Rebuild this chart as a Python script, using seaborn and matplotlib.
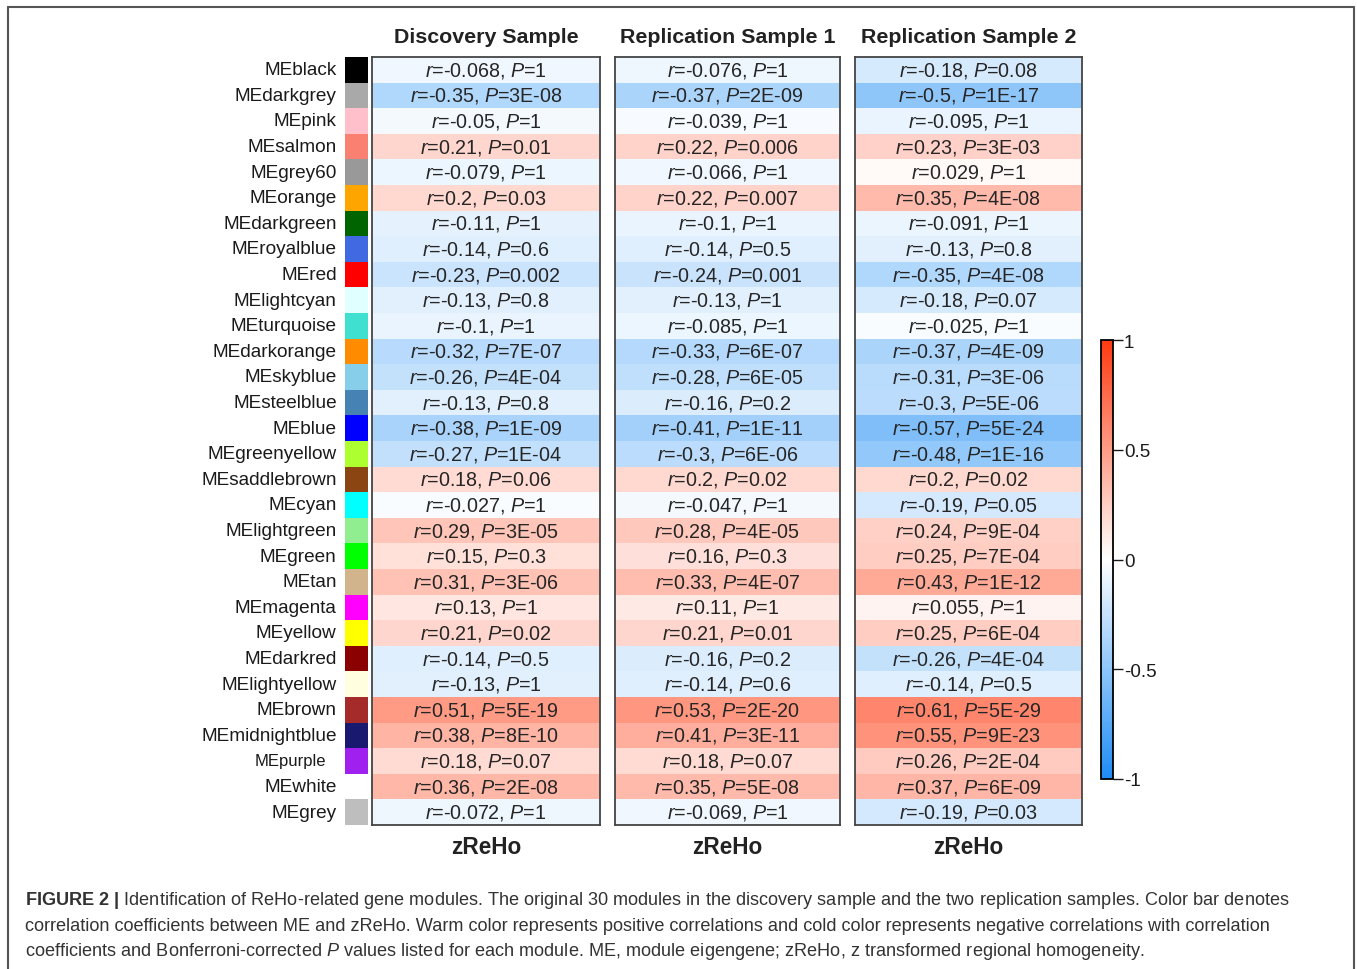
import numpy as np
import pandas as pd
import matplotlib
matplotlib.use("Agg")
import matplotlib.pyplot as plt
import matplotlib.transforms as mtransforms
from matplotlib.colors import LinearSegmentedColormap, ListedColormap
from matplotlib.lines import Line2D
import seaborn as sns

# ---------------- data ----------------
modules = ['MEblack', 'MEdarkgrey', 'MEpink', 'MEsalmon', 'MEgrey60', 'MEorange',
           'MEdarkgreen', 'MEroyalblue', 'MEred', 'MElightcyan', 'MEturquoise',
           'MEdarkorange', 'MEskyblue', 'MEsteelblue', 'MEblue', 'MEgreenyellow',
           'MEsaddlebrown', 'MEcyan', 'MElightgreen', 'MEgreen', 'MEtan', 'MEmagenta',
           'MEyellow', 'MEdarkred', 'MElightyellow', 'MEbrown', 'MEmidnightblue',
           'MEpurple', 'MEwhite', 'MEgrey']
swatch_colors = ['#000000', '#A9A9A9', '#FFC0CB', '#FA8072', '#999999', '#FFA500',
                 '#006400', '#4169E1', '#FF0000', '#E0FFFF', '#40E0D0', '#FF8C00',
                 '#87CEEB', '#4682B4', '#0000FF', '#ADFF2F', '#8B4513', '#00FFFF',
                 '#90EE90', '#00FF00', '#D2B48C', '#FF00FF', '#FFFF00', '#8B0000',
                 '#FFFFE0', '#A52A2A', '#191970', '#A020F0', '#FFFFFF', '#BEBEBE']

panel_titles = ['Discovery Sample', 'Replication Sample 1', 'Replication Sample 2']
trait = 'zReHo'

r_discovery = [-0.068, -0.35, -0.05, 0.21, -0.079, 0.2, -0.11, -0.14, -0.23, -0.13,
               -0.1, -0.32, -0.26, -0.13, -0.38, -0.27, 0.18, -0.027, 0.29, 0.15,
               0.31, 0.13, 0.21, -0.14, -0.13, 0.51, 0.38, 0.18, 0.36, -0.072]
p_discovery = ['1', '3E-08', '1', '0.01', '1', '0.03', '1', '0.6', '0.002', '0.8',
               '1', '7E-07', '4E-04', '0.8', '1E-09', '1E-04', '0.06', '1', '3E-05', '0.3',
               '3E-06', '1', '0.02', '0.5', '1', '5E-19', '8E-10', '0.07', '2E-08', '1']

r_rep1 = [-0.076, -0.37, -0.039, 0.22, -0.066, 0.22, -0.1, -0.14, -0.24, -0.13,
          -0.085, -0.33, -0.28, -0.16, -0.41, -0.3, 0.2, -0.047, 0.28, 0.16,
          0.33, 0.11, 0.21, -0.16, -0.14, 0.53, 0.41, 0.18, 0.35, -0.069]
p_rep1 = ['1', '2E-09', '1', '0.006', '1', '0.007', '1', '0.5', '0.001', '1',
          '1', '6E-07', '6E-05', '0.2', '1E-11', '6E-06', '0.02', '1', '4E-05', '0.3',
          '4E-07', '1', '0.01', '0.2', '0.6', '2E-20', '3E-11', '0.07', '5E-08', '1']

r_rep2 = [-0.18, -0.5, -0.095, 0.23, 0.029, 0.35, -0.091, -0.13, -0.35, -0.18,
          -0.025, -0.37, -0.31, -0.3, -0.57, -0.48, 0.2, -0.19, 0.24, 0.25,
          0.43, 0.055, 0.25, -0.26, -0.14, 0.61, 0.55, 0.26, 0.37, -0.19]
p_rep2 = ['0.08', '1E-17', '1', '3E-03', '1', '4E-08', '1', '0.8', '4E-08', '0.07',
          '1', '4E-09', '3E-06', '5E-06', '5E-24', '1E-16', '0.02', '0.05', '9E-04', '7E-04',
          '1E-12', '1', '6E-04', '4E-04', '0.5', '5E-29', '9E-23', '2E-04', '6E-09', '0.03']

cbar_ticks = [-1, -0.5, 0, 0.5, 1]
cbar_ticklabels = ['-1', '-0.5', '0', '0.5', '1']

caption_lines = [
    r'$\mathbf{FIGURE\ 2\ |}$ Identification of ReHo-related gene modules. The original 30 modules in the discovery sample and the two replication samples. Color bar denotes',
    r'correlation coefficients between ME and zReHo. Warm color represents positive correlations and cold color represents negative correlations with correlation',
    r'coefficients and Bonferroni-corrected $\mathit{P}$ values listed for each module. ME, module eigengene; zReHo, z transformed regional homogeneity.',
]

# ---------------- style ----------------
sns.set_style('white')
plt.rcParams['font.family'] = ['Liberation Sans', 'DejaVu Sans']
plt.rcParams['mathtext.fontset'] = 'custom'
plt.rcParams['mathtext.rm'] = 'Liberation Sans'
plt.rcParams['mathtext.it'] = 'Liberation Sans:italic'
plt.rcParams['mathtext.bf'] = 'Liberation Sans:bold'
plt.rcParams['axes.unicode_minus'] = False

W, H = 1357, 970
fig = plt.figure(figsize=(W / 100, H / 100), dpi=100)


def fx(px):
    return px / W


def fy(py):
    return 1 - py / H


cmap = LinearSegmentedColormap.from_list('bwr_custom', ['#1E8CF5', '#FFFFFF', '#FF3A10'])

top_px, bot_px = 58, 826
panel_x = [(372, 600), (615, 840), (855, 1082)]

# swatch column
ax_sw = fig.add_axes([fx(345), fy(bot_px), fx(368 - 345), (bot_px - top_px) / H])
sw_df = pd.DataFrame({'c': np.arange(len(modules))}, index=modules)
sns.heatmap(sw_df, ax=ax_sw, cmap=ListedColormap(swatch_colors), cbar=False,
            xticklabels=False, yticklabels=modules, vmin=-0.5, vmax=len(modules) - 0.5)
ax_sw.set_ylabel('')
ax_sw.set_xlabel('')
ax_sw.tick_params(axis='y', length=0, pad=6, labelsize=13.7, colors='#1a1a1a')
for lab in ax_sw.get_yticklabels():
    lab.set_rotation(0)
    if lab.get_text() == 'MEpurple':
        lab.set_fontsize(12)
        lab.set_transform(lab.get_transform() +
                          mtransforms.ScaledTranslation(-11 / 100, 0, fig.dpi_scale_trans))

# panels
r_all = [r_discovery, r_rep1, r_rep2]
p_all = [p_discovery, p_rep1, p_rep2]
for i, ((x0, x1), rv, pv, title) in enumerate(zip(panel_x, r_all, p_all, panel_titles)):
    ax = fig.add_axes([fx(x0), fy(bot_px), fx(x1 - x0), (bot_px - top_px) / H])
    df = pd.DataFrame({trait: rv}, index=modules)
    labels = np.array([[rf'$\mathit{{r}}$={r:g}, $\mathit{{P}}$={p}'] for r, p in zip(rv, pv)])
    last = (i == 2)
    if last:
        cax = fig.add_axes([fx(1101), fy(780), fx(12), (780 - 341) / H])
    sns.heatmap(df, ax=ax, cmap=cmap, vmin=-1, vmax=1, annot=labels, fmt='',
                annot_kws={'fontsize': 14.2, 'color': '#262626'},
                cbar=last, cbar_ax=cax if last else None,
                xticklabels=False, yticklabels=False)
    for sp in ax.spines.values():
        sp.set_visible(True)
        sp.set_color('#444444')
        sp.set_linewidth(1.3)
    ax.set_ylabel('')
    ax.set_xlabel(trait, fontsize=16.3, fontweight='bold', color='#222222', labelpad=7)
    ax.set_title(title, fontsize=15.4, fontweight='bold', color='#222222', pad=11)
    if last:
        cb = ax.collections[0].colorbar
        cb.set_ticks(cbar_ticks)
        cb.set_ticklabels(cbar_ticklabels)
        cb.ax.tick_params(length=7, width=1, labelsize=13.5, direction='out',
                          colors='#1a1a1a', pad=1)
        cb.outline.set_visible(True)
        cb.outline.set_edgecolor('black')
        cb.outline.set_linewidth(1.3)

# caption
for k, line in enumerate(caption_lines):
    fig.text(fx(25), fy(901 + 25.5 * k), line, fontsize=13.05, color='#333333',
             ha='left', va='center')

# outer frame (top, left, right)
fc = '#555555'
fig.add_artist(Line2D([fx(8), fx(1354)], [fy(8), fy(8)], transform=fig.transFigure,
                      color=fc, lw=1.5))
fig.add_artist(Line2D([fx(8), fx(8)], [0, fy(8)], transform=fig.transFigure,
                      color=fc, lw=1.5))
fig.add_artist(Line2D([fx(1354), fx(1354)], [0, fy(8)], transform=fig.transFigure,
                      color=fc, lw=1.5))

fig.savefig('out.png', dpi=100, facecolor='white')
